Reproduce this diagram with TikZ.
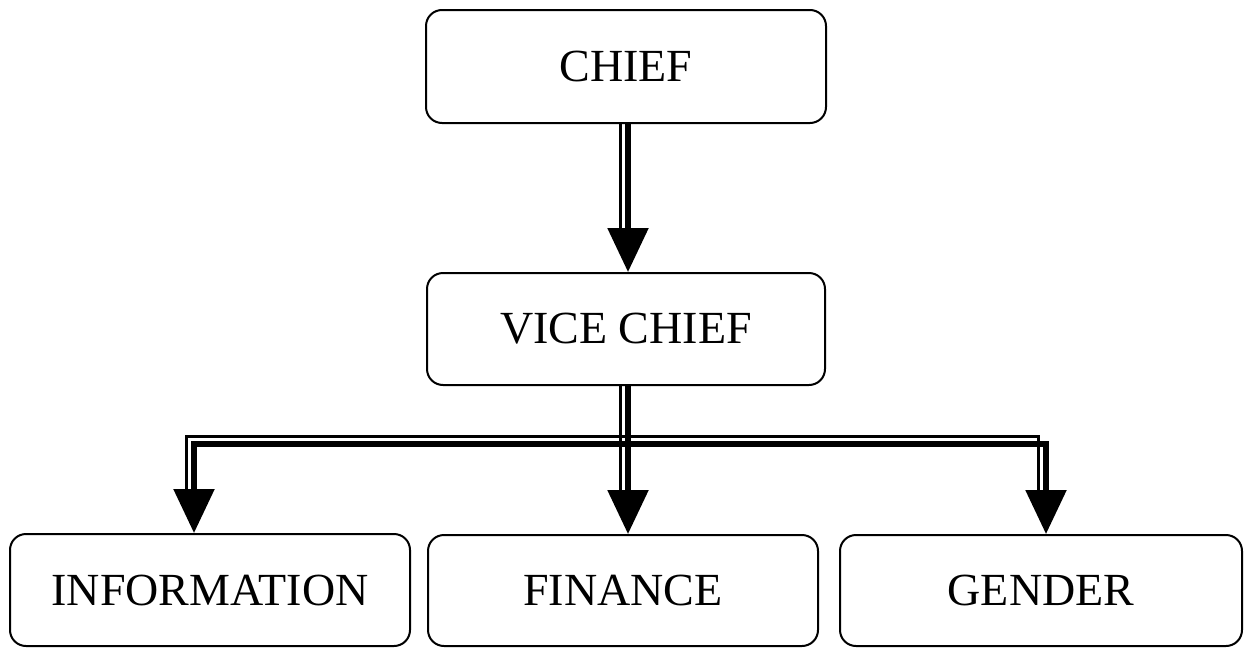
\documentclass[tikz,border=0pt]{standalone}
\usepackage{fontspec}
\setmainfont{Liberation Serif}
\usetikzlibrary{arrows.meta,calc}

\begin{document}
\begin{tikzpicture}[x=1pt,y=-1pt,
  box/.style={draw, line width=2pt, rounded corners=16pt, inner sep=0pt,
              font=\fontsize{46}{50}\selectfont},
  heavy/.style={line width=5.5pt, -{Triangle[length=44pt,width=40pt]}},
  % thin companion line, drawn 7.5pt to the left / above the heavy one
  hairline/.style={line width=2.4pt, shorten >=40pt}
]
\useasboundingbox (0,0) rectangle (1245,648);

% boxes
\node[box, minimum width=400pt, minimum height=113pt] (chief)   at (626,66.5)  {CHIEF};
\node[box, minimum width=398pt, minimum height=112pt] (vice)    at (626,329)   {VICE CHIEF};
\node[box, minimum width=400pt, minimum height=112pt] (info)    at (210,590)   {INFORMATION};
\node[box, minimum width=390pt, minimum height=111pt] (finance) at (623,590.5) {FINANCE};
\node[box, minimum width=402pt, minimum height=111pt] (gender)  at (1041,590.5){GENDER};

% routing guides
\coordinate (trunk)     at (628,0);
\coordinate (bar)       at (0,444);
\coordinate (leftdrop)  at (194,0);
\coordinate (rightdrop) at (1046,0);

% chief -> vice chief
\draw[heavy]    (chief.south -| trunk) -- (vice.north -| trunk);
\draw[hairline] ($(chief.south -| trunk)+(-7.5,0)$) -- ($(vice.north -| trunk)+(-7.5,0)$);

% vice chief -> finance
\draw[heavy]    (vice.south -| trunk) -- (finance.north -| trunk);
\draw[hairline] ($(vice.south -| trunk)+(-7.5,0)$) -- ($(finance.north -| trunk)+(-7.5,0)$);

% vice chief -> information
\draw[heavy]    (trunk |- bar) -| (info.north -| leftdrop);
\draw[hairline] ($(trunk |- bar)+(-7.5,-7.5)$) -| ($(info.north -| leftdrop)+(-7.5,0)$);

% vice chief -> gender
\draw[heavy]    (trunk |- bar) -| (gender.north -| rightdrop);
\draw[hairline] ($(trunk |- bar)+(-7.5,-7.5)$) -| ($(gender.north -| rightdrop)+(-7.5,0)$);
\end{tikzpicture}
\end{document}
